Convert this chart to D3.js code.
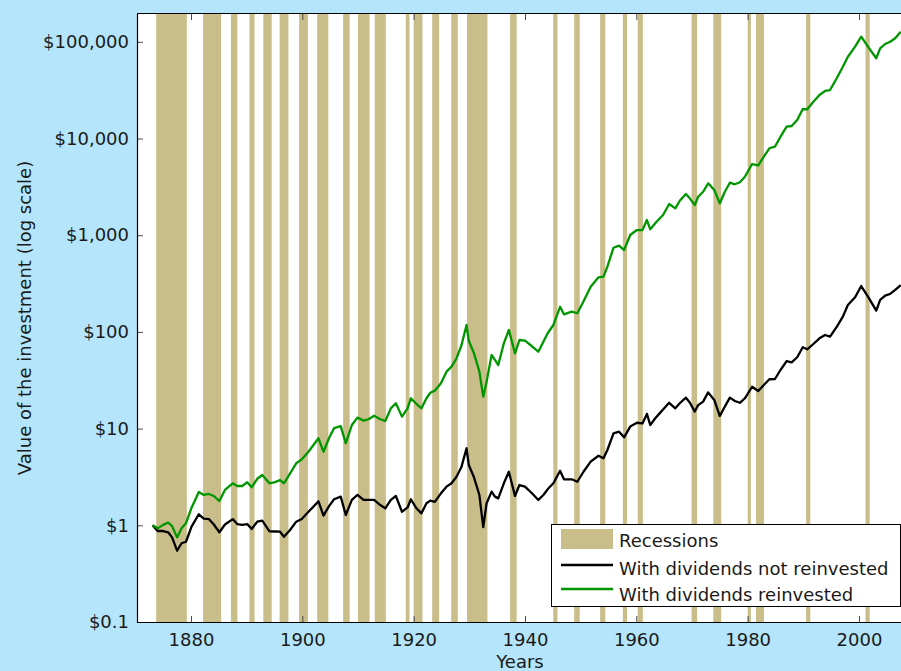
<!DOCTYPE html>
<html>
<head>
<meta charset="utf-8">
<script src="https://cdn.jsdelivr.net/npm/d3@7"></script>
<style>
  html, body { margin: 0; padding: 0; background: #B4E5FB; }
  svg { display: block; }
  text { font-family: "DejaVu Sans", Verdana, sans-serif; }
</style>
</head>
<body>
<svg id="chart" width="901" height="671"></svg>
<script>
// ---- Data ----
const years = [1873.1, 1874.0, 1875.0, 1875.9, 1876.6, 1877.5, 1878.3, 1879.1, 1880.1, 1881.4,
  1882.3, 1883.2, 1884.1, 1885.1, 1886.1, 1887.5, 1888.3, 1889.2, 1890.1, 1890.9,
  1891.9, 1892.8, 1894.1, 1895.1, 1896.0, 1896.7, 1897.8, 1898.9, 1899.9, 1901.1,
  1902.0, 1902.9, 1903.8, 1904.8, 1905.7, 1906.9, 1907.8, 1908.9, 1909.9, 1911.0,
  1911.9, 1912.9, 1914.0, 1914.9, 1915.9, 1916.8, 1917.9, 1918.9, 1919.5, 1920.5,
  1921.4, 1922.3, 1923.0, 1923.8, 1924.9, 1925.9, 1926.8, 1927.7, 1928.6, 1929.5,
  1929.9, 1930.8, 1931.8, 1932.5, 1933.1, 1934.0, 1934.6, 1935.2, 1936.2, 1937.1,
  1938.2, 1939.0, 1940.0, 1941.2, 1942.4, 1943.3, 1944.1, 1945.1, 1946.3, 1947.0,
  1948.4, 1949.4, 1950.5, 1951.8, 1953.2, 1954.1, 1954.8, 1955.9, 1956.9, 1957.8,
  1958.9, 1960.1, 1961.1, 1961.9, 1962.5, 1963.4, 1964.1, 1964.8, 1965.9, 1967.0,
  1967.8, 1968.9, 1969.6, 1970.5, 1971.1, 1972.0, 1972.9, 1974.0, 1975.0, 1975.9,
  1976.8, 1977.7, 1978.6, 1979.5, 1980.8, 1981.9, 1982.9, 1983.9, 1984.9, 1985.9,
  1987.0, 1987.9, 1988.9, 1989.9, 1990.7, 1991.8, 1992.9, 1993.9, 1994.8, 1996.0,
  1997.1, 1998.0, 1999.3, 2000.4, 2001.7, 2003.1, 2003.8, 2004.7, 2005.6, 2006.5,
  2007.5];

const notReinvested = [1.00, 0.873, 0.873, 0.847, 0.751, 0.546, 0.652, 0.676, 0.968, 1.30,
  1.17, 1.16, 1.02, 0.847, 1.02, 1.16, 1.03, 1.01, 1.03, 0.916,
  1.09, 1.12, 0.867, 0.863, 0.859, 0.762, 0.894, 1.09, 1.16, 1.38,
  1.56, 1.77, 1.26, 1.58, 1.86, 1.98, 1.28, 1.83, 2.06, 1.83,
  1.83, 1.83, 1.62, 1.50, 1.83, 2.01, 1.38, 1.53, 1.86, 1.50,
  1.33, 1.69, 1.80, 1.75, 2.14, 2.51, 2.72, 3.18, 4.04, 6.26,
  4.21, 3.18, 2.06, 0.96, 1.69, 2.23, 1.98, 1.90, 2.72, 3.58,
  2.01, 2.61, 2.51, 2.16, 1.83, 2.06, 2.37, 2.72, 3.67, 2.99,
  2.99, 2.82, 3.58, 4.55, 5.24, 4.93, 6.01, 8.94, 9.29, 8.13,
  10.5, 11.5, 11.3, 14.2, 10.9, 12.8, 14.2, 15.8, 18.5, 16.2,
  18.3, 20.9, 18.6, 15.0, 17.5, 19.0, 23.7, 19.8, 13.5, 16.9,
  20.9, 19.3, 18.5, 20.6, 27.1, 24.5, 28.3, 32.4, 32.6, 40.4,
  50.0, 48.5, 54.7, 69.4, 66.1, 75.0, 85.9, 92.9, 89.3, 113,
  144, 190, 228, 298, 228, 166, 214, 237, 247, 272,
  305];

const reinvested = [1.00, 0.93, 1.01, 1.07, 0.98, 0.75, 0.93, 1.05, 1.52, 2.21,
  2.06, 2.11, 2.01, 1.78, 2.32, 2.72, 2.55, 2.55, 2.79, 2.47,
  3.03, 3.31, 2.72, 2.80, 2.94, 2.72, 3.45, 4.38, 4.81, 5.77,
  6.77, 7.94, 5.77, 8.00, 10.1, 10.6, 7.05, 10.9, 13.0, 12.1,
  12.5, 13.6, 12.5, 12.0, 16.2, 18.3, 13.3, 16.2, 20.6, 18.0,
  16.2, 20.6, 23.5, 24.7, 29.4, 38.8, 43.7, 53.3, 73.2, 118,
  81.1, 61.0, 38.8, 21.4, 30.6, 57.7, 51.3, 45.5, 76.3, 105,
  60.1, 82.5, 81.1, 71.5, 62.4, 79.2, 97.5, 118, 182, 152,
  162, 156, 206, 294, 367, 373, 473, 743, 780, 703,
  1005, 1132, 1132, 1436, 1152, 1328, 1472, 1619, 2103, 1897,
  2275, 2668, 2408, 2055, 2502, 2818, 3441, 2936, 2138, 2818,
  3493, 3363, 3527, 4030, 5453, 5288, 6492, 7932, 8240, 10450,
  13250, 13480, 15550, 20200, 20060, 24030, 28200, 31030, 31760, 41980,
  55340, 70200, 89090, 113000, 87870, 67610, 85700, 95000, 100400, 108900,
  127400];

// US recessions (peak month start -> trough month end), as decimal years
const recessionStart = [1873.75, 1882.17, 1887.17, 1890.50, 1893.00, 1895.92, 1899.42, 1902.67,
  1907.33, 1910.00, 1913.00, 1918.58, 1920.00, 1923.33, 1926.75, 1929.58, 1937.33, 1945.08,
  1948.83, 1953.50, 1957.58, 1960.25, 1969.92, 1973.83, 1980.00, 1981.50, 1990.50, 2001.17];
const recessionEnd = [1879.25, 1885.42, 1888.33, 1891.42, 1894.50, 1897.50, 1901.00, 1904.67,
  1908.50, 1912.08, 1915.00, 1919.25, 1921.58, 1924.58, 1927.92, 1933.25, 1938.50, 1945.83,
  1949.83, 1954.42, 1958.33, 1961.17, 1970.92, 1975.25, 1980.58, 1982.92, 1991.25, 2001.92];

const yTickValues = [0.1, 1, 10, 100, 1000, 10000, 100000];
const yTickLabels = ["$0.1", "$1", "$10", "$100", "$1,000", "$10,000", "$100,000"];
const xTickValues = [1880, 1900, 1920, 1940, 1960, 1980, 2000];

const seriesNames = ["With dividends not reinvested", "With dividends reinvested"];
const seriesColors = ["#000000", "#009600"];
const recessionColor = "#C9BD8A";

// ---- Layout ----
const W = 901, H = 671;
const plot = { left: 137, top: 14, right: 910, bottom: 622 };

const svg = d3.select("#chart");

svg.append("rect").attr("x", 0).attr("y", 0).attr("width", W).attr("height", H).attr("fill", "#B4E5FB");

const x = d3.scaleLinear().domain([1880, 2000]).range([191, 859]);
const y = d3.scaleLog().domain([0.1, Math.pow(10, 5.288)]).range([plot.bottom, plot.top]);

svg.append("defs").append("clipPath").attr("id", "clip")
  .append("rect").attr("x", plot.left).attr("y", plot.top)
  .attr("width", plot.right - plot.left).attr("height", plot.bottom - plot.top);

svg.append("rect").attr("x", plot.left).attr("y", plot.top)
  .attr("width", plot.right - plot.left).attr("height", plot.bottom - plot.top)
  .attr("fill", "#ffffff");

const g = svg.append("g").attr("clip-path", "url(#clip)");

// recession bars
g.selectAll("rect.rec").data(recessionStart.map((s, i) => [s, recessionEnd[i]]))
  .enter().append("rect").attr("class", "rec")
  .attr("x", d => x(d[0]))
  .attr("width", d => x(d[1]) - x(d[0]))
  .attr("y", plot.top).attr("height", plot.bottom - plot.top)
  .attr("fill", recessionColor);

// lines
const line = d3.line().x(d => x(d[0])).y(d => y(d[1]));
[notReinvested, reinvested].forEach((vals, i) => {
  g.append("path")
    .datum(years.map((yr, k) => [yr, vals[k]]))
    .attr("fill", "none")
    .attr("stroke", seriesColors[i])
    .attr("stroke-width", 2.3)
    .attr("stroke-linejoin", "round")
    .attr("d", line);
});

// axes
const yAxis = d3.axisLeft(y).tickValues(yTickValues)
  .tickFormat((d, i) => yTickLabels[i]).tickSizeInner(-6).tickSizeOuter(0).tickPadding(8);
const yg = svg.append("g").attr("transform", `translate(${plot.left},0)`).call(yAxis);

const xAxis = d3.axisBottom(x).tickValues(xTickValues).tickFormat(d3.format("d"))
  .tickSizeInner(-6).tickSizeOuter(0).tickPadding(11);
const xg = svg.append("g").attr("transform", `translate(0,${plot.bottom})`).call(xAxis);

const xTop = d3.axisTop(x).tickValues(xTickValues).tickFormat("").tickSizeInner(-6).tickSizeOuter(0);
const xtg = svg.append("g").attr("transform", `translate(0,${plot.top})`).call(xTop);

[yg, xg, xtg].forEach(a => {
  a.select(".domain").remove();
  a.selectAll(".tick line").attr("stroke", "#4a4a4a").attr("stroke-width", 1);
  a.selectAll(".tick text").attr("fill", "#1a1a1a").style("font-size", "18px")
    .style("font-family", "'DejaVu Sans', Verdana, sans-serif");
});

// border lines
svg.append("line").attr("x1", plot.left + 0.5).attr("x2", plot.left + 0.5)
  .attr("y1", plot.top).attr("y2", plot.bottom + 1).attr("stroke", "#000").attr("stroke-width", 1.2);
svg.append("line").attr("x1", plot.left).attr("x2", W)
  .attr("y1", plot.top - 0.5).attr("y2", plot.top - 0.5).attr("stroke", "#000").attr("stroke-width", 1.2);
svg.append("line").attr("x1", plot.left).attr("x2", W)
  .attr("y1", plot.bottom + 0.5).attr("y2", plot.bottom + 0.5).attr("stroke", "#000").attr("stroke-width", 1.2);

// axis titles
svg.append("text").attr("x", (plot.left + W) / 2 + 1).attr("y", 668)
  .attr("text-anchor", "middle").attr("fill", "#1a1a1a").style("font-size", "18px").text("Years");
svg.append("text").attr("transform", "rotate(-90)")
  .attr("x", -318).attr("y", 31)
  .attr("text-anchor", "middle").attr("fill", "#1a1a1a").style("font-size", "18px")
  .text("Value of the investment (log scale)");

// legend
const lg = svg.append("g");
lg.append("rect").attr("x", 551.5).attr("y", 524.5).attr("width", 349).attr("height", 82)
  .attr("fill", "#ffffff").attr("stroke", "#000").attr("stroke-width", 1);
lg.append("rect").attr("x", 561).attr("y", 529).attr("width", 52).attr("height", 20).attr("fill", recessionColor);
lg.append("text").attr("x", 619).attr("y", 547).attr("fill", "#1a1a1a").style("font-size", "18px").text("Recessions");
seriesNames.forEach((name, i) => {
  const yy = 565 + i * 24;
  lg.append("line").attr("x1", 561).attr("x2", 613).attr("y1", yy).attr("y2", yy)
    .attr("stroke", seriesColors[i]).attr("stroke-width", 2.3);
  lg.append("text").attr("x", 619).attr("y", 575 + i * 25.5).attr("fill", "#1a1a1a")
    .style("font-size", "18px").text(name);
});
</script>
</body>
</html>
